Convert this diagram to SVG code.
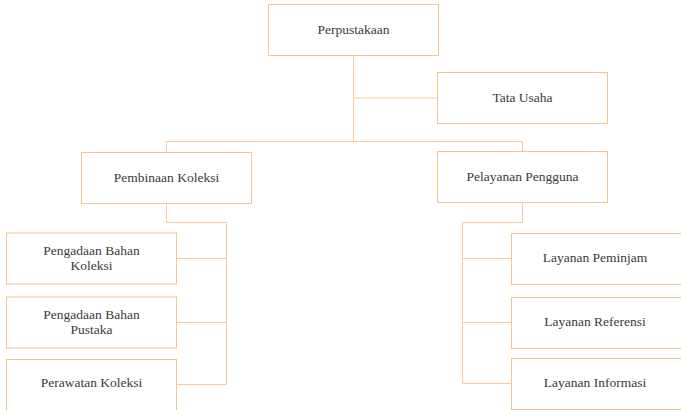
<svg xmlns="http://www.w3.org/2000/svg" width="681" height="410" viewBox="0 0 681 410">
<style>
.box{fill:#ffffff;stroke:#f6c48e;stroke-width:1}
.ln{fill:none;stroke:#f7cc9c;stroke-width:1}
.t{font-family:'Liberation Serif','Times New Roman',serif;font-size:13.5px;fill:#3a3a3a;text-anchor:middle}
</style>
<rect width="681" height="410" fill="#ffffff"/>
<g id="connectors">
<path class="ln" d="M353.5 55.5V141.5M353.5 98H437.5M166.5 141.5H522.5M166.5 141.5V152M522.5 141.5V152"/>
<path class="ln" d="M166.5 203V222.5H226.5V384.5M177 258.5H226.5M177 322.5H226.5M177 384.5H226.5"/>
<path class="ln" d="M522.5 203V222.5H462.5V383.5M462.5 258.5H511.5M462.5 322.5H511.5M462.5 383.5H511.5"/>
</g>
<g id="perpustakaan"><rect class="box" x="268.5" y="4.5" width="170" height="51"/><text class="t" x="353.5" y="34">Perpustakaan</text></g>
<g id="tata-usaha"><rect class="box" x="437.5" y="72.5" width="170" height="51"/><text class="t" x="522.5" y="102">Tata Usaha</text></g>
<g id="pembinaan-koleksi"><rect class="box" x="81.5" y="152.5" width="170" height="51"/><text class="t" x="166.5" y="182">Pembinaan Koleksi</text></g>
<g id="pelayanan-pengguna"><rect class="box" x="437.5" y="151.5" width="170" height="51"/><text class="t" x="522.5" y="181">Pelayanan Pengguna</text></g>
<g id="pengadaan-bahan-koleksi"><rect class="box" x="6.5" y="233" width="170" height="51"/><text class="t" x="91.5" y="255">Pengadaan Bahan</text><text class="t" x="91.5" y="270">Koleksi</text></g>
<g id="pengadaan-bahan-pustaka"><rect class="box" x="6.5" y="297" width="170" height="51"/><text class="t" x="91.5" y="319">Pengadaan Bahan</text><text class="t" x="91.5" y="334">Pustaka</text></g>
<g id="perawatan-koleksi"><rect class="box" x="6.5" y="359.5" width="170" height="51"/><text class="t" x="91.5" y="387">Perawatan Koleksi</text></g>
<g id="layanan-peminjam"><rect class="box" x="511.5" y="233.5" width="171" height="51"/><text class="t" x="595" y="262">Layanan Peminjam</text></g>
<g id="layanan-referensi"><rect class="box" x="511.5" y="297.5" width="171" height="51"/><text class="t" x="595" y="326">Layanan Referensi</text></g>
<g id="layanan-informasi"><rect class="box" x="511.5" y="358.5" width="171" height="51"/><text class="t" x="595" y="387">Layanan Informasi</text></g>
</svg>
